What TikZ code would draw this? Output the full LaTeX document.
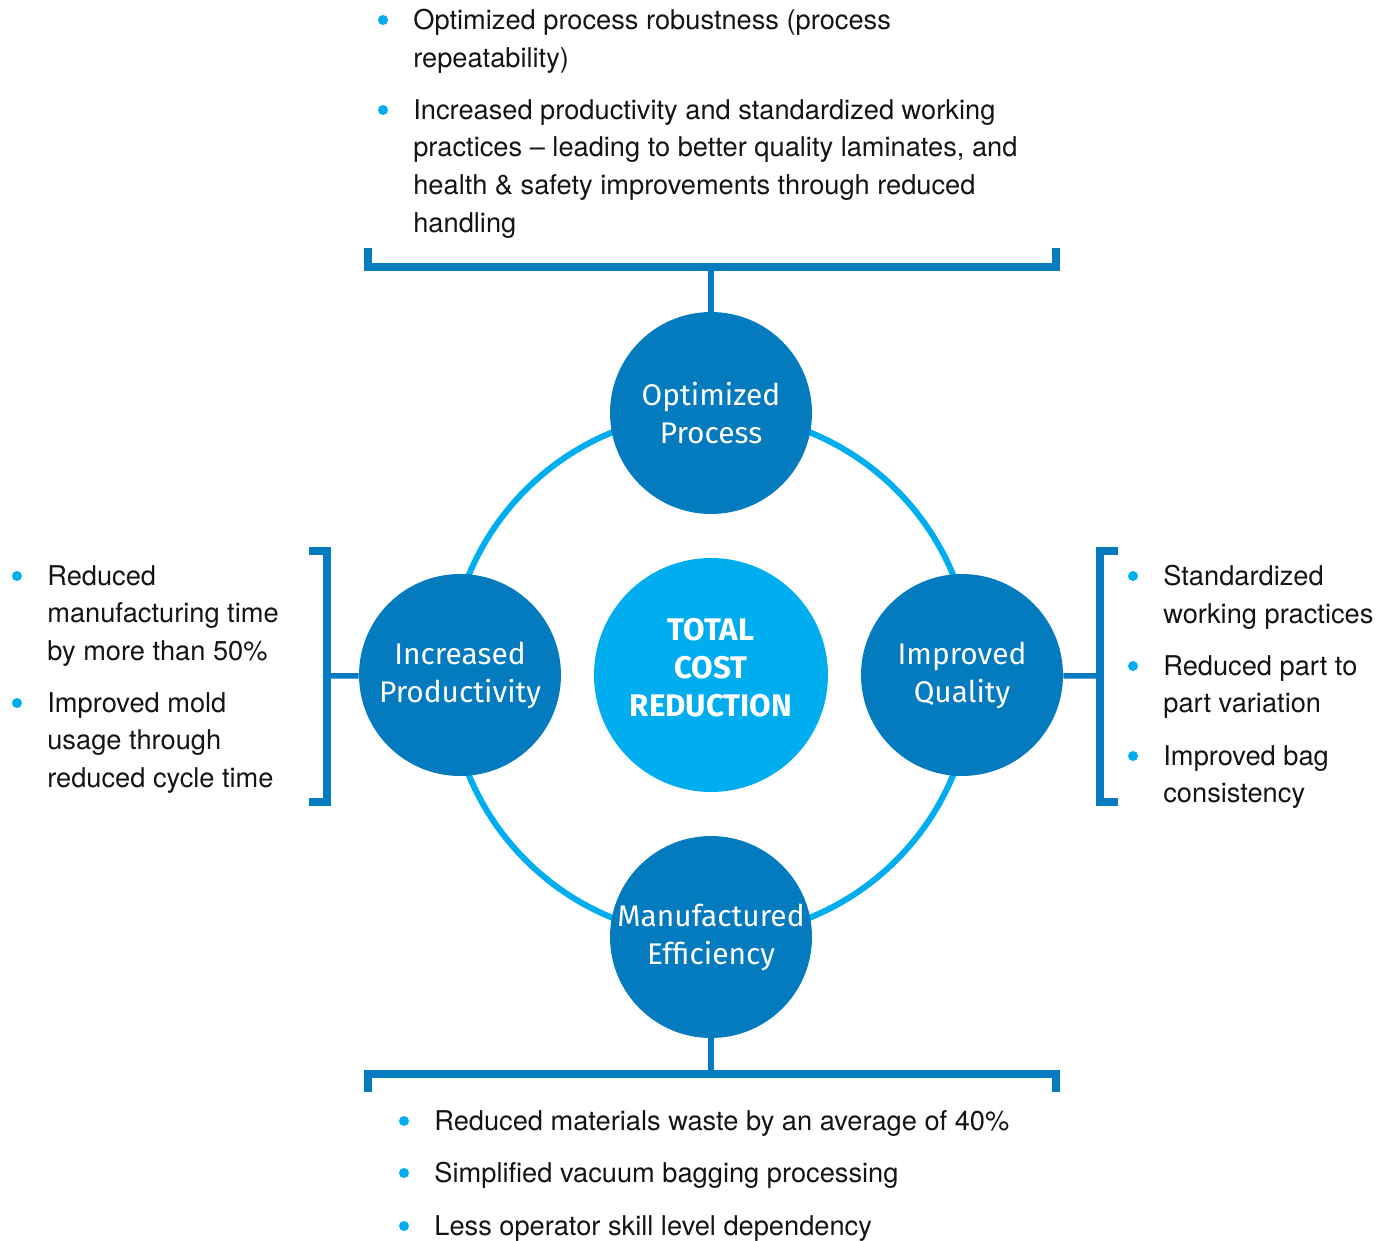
\documentclass[tikz,border=0pt]{standalone}
\usepackage{fontspec}
\setmainfont{TeX Gyre Heros}
\newfontfamily\dinfont{Fira Sans}
\usetikzlibrary{calc}
\definecolor{darkblue}{RGB}{4,122,191}
\definecolor{lightblue}{RGB}{0,174,239}
\definecolor{textgray}{RGB}{20,20,20}
\begin{document}
\begin{tikzpicture}[x=0.02cm, y=-0.02cm,
    bigdot/.style={circle, fill=darkblue, minimum size=4.04cm, inner sep=0pt,
        text=white, align=center, font=\dinfont\fontsize{17pt}{21.6pt}\selectfont},
    core/.style={circle, fill=lightblue, minimum size=4.68cm, inner sep=0pt,
        text=white, align=center, font=\dinfont\bfseries\fontsize{17.8pt}{21.6pt}\selectfont},
    ring/.style={draw=lightblue, line width=0.12cm},
    bracket/.style={draw=darkblue, line width=0.15cm},
    stem/.style={draw=darkblue, line width=0.11cm},
    item/.style={anchor=north west, inner sep=0pt, align=left, text=textgray,
        font=\fontsize{15.5pt}{21.4pt}\selectfont},
    dot/.style={fill=lightblue}]
    \useasboundingbox (0,0) rectangle (1391,1240);
    % ring behind the circles
    \coordinate (hub) at (711,675);
    \draw[ring] (hub) circle (5.24cm);
    % circles
    \node[core] (tcr) at (hub) {TOTAL\\COST\\REDUCTION\rule[-0.32cm]{0pt}{0pt}};
    \node[bigdot] (op) at (711,413) {Optimized\\Process};
    \node[bigdot] (ip) at (460,675) {Increased\\Productivity};
    \node[bigdot] (iq) at (962,675) {Improved\\Quality};
    \node[bigdot] (me) at (711,937) {Manufactured\\Efficiency};
    % brackets
    \draw[bracket] (368,248) -- (368,267) -- (1056,267) -- (1056,248);
    \draw[bracket] (368,1092) -- (368,1074) -- (1056,1074) -- (1056,1092);
    \draw[bracket] (309,551) -- (327,551) -- (327,802) -- (309,802);
    \draw[bracket] (1118,551) -- (1100,551) -- (1100,802) -- (1118,802);
    \coordinate (topbar) at (711,267);
    \coordinate (botbar) at (711,1074);
    \coordinate (leftbar) at (327,676);
    \coordinate (rightbar) at (1100,676);
    \draw[stem] (topbar) -- (op);
    \draw[stem] (botbar) -- (me);
    \draw[stem] (leftbar) -- (ip);
    \draw[stem] (rightbar) -- (iq);
    % top items
    \node[item] (t1) at (413,9) {Optimized process robustness (process\\repeatability)};
    \node[item] (t2) at (413,99) {Increased productivity and standardized working\\practices -- leading to better quality laminates, and\\health \& safety improvements through reduced\\handling};
    % left items
    \node[item] (l1) at (47,565) {Reduced\\manufacturing time\\by more than 50\%};
    \node[item] (l2) at (47,692) {Improved mold\\usage through\\reduced cycle time};
    % right items
    \node[item] (r1) at (1163,565) {Standardized\\working practices};
    \node[item] (r2) at (1163,655) {Reduced part to\\part variation};
    \node[item] (r3) at (1163,745) {Improved bag\\consistency};
    % bottom items
    \node[item] (b1) at (434,1110) {Reduced materials waste by an average of 40\%};
    \node[item] (b2) at (434,1162) {Simplified vacuum bagging processing};
    \node[item] (b3) at (434,1215) {Less operator skill level dependency};
    % bullets
    \foreach \n in {t1,t2,l1,l2,r1,r2,r3,b1,b2,b3}
        \fill[dot] ($(\n.north west)+(-30,11)$) circle (0.1cm);
\end{tikzpicture}
\end{document}
